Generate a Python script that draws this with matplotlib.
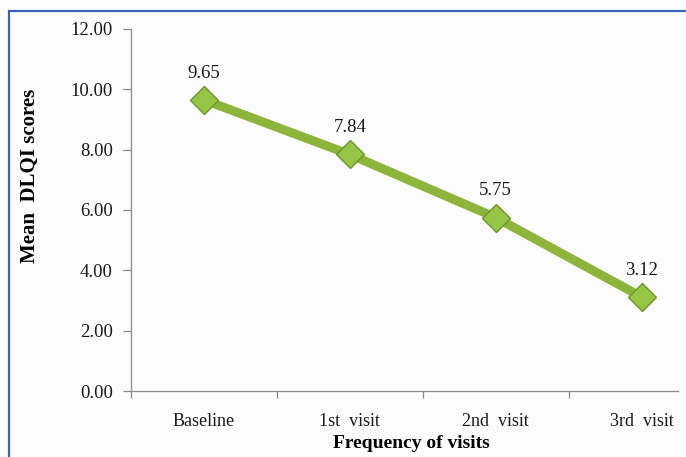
import matplotlib
matplotlib.use("Agg")
import matplotlib.pyplot as plt
from matplotlib.patches import Rectangle

visits = ["Baseline", "1st  visit", "2nd  visit", "3rd  visit"]
mean_dlqi = [9.65, 7.84, 5.75, 3.12]
y_ticks = [0, 2, 4, 6, 8, 10, 12]

W, H = 686, 457
fig = plt.figure(figsize=(W / 100, H / 100), dpi=100)
fig.patch.set_facecolor("#fcfcfc")
plt.rcParams["font.family"] = ["Liberation Serif", "DejaVu Serif"]

# blue chart frame (runs off the right and bottom edges)
fig.patches.append(Rectangle((8.5 / W, -0.1), 1.2, 1 + 0.1 - 10.5 / H,
                             transform=fig.transFigure, fill=False,
                             edgecolor="#3a62b8", linewidth=1.6, zorder=0))

ax = fig.add_axes([131 / W, 1 - 391 / H, (678 - 131) / W, (391 - 29) / H])
ax.set_facecolor("none")

x = list(range(len(visits)))
ax.plot(x, mean_dlqi, color="#8db53c", linewidth=6.5, solid_capstyle="butt",
        zorder=2)
ax.plot(x, mean_dlqi, linestyle="none", marker="D", markersize=14,
        markerfacecolor="#96c545", markeredgecolor="#6b9629",
        markeredgewidth=1.0, zorder=3)

for xi, v in zip(x, mean_dlqi):
    ax.annotate(f"{v:.2f}", (xi, v), xytext=(0, 13), textcoords="offset points",
                ha="center", va="bottom", fontsize=13.5, color="#1a1a1a")

ax.set_xlim(-0.5, 3.25)
ax.set_ylim(0, 12)
ax.set_yticks(y_ticks)
ax.set_yticklabels([f"{t:.2f}" for t in y_ticks], fontsize=13.5,
                   color="#1a1a1a")

ax.set_xticks([-0.5, 0.5, 1.5, 2.5])
ax.set_xticklabels([])
ax.set_xticks(x, minor=True)
ax.set_xticklabels(visits, minor=True, fontsize=13, color="#1a1a1a")
ax.tick_params(axis="x", which="minor", length=0, pad=16)
ax.tick_params(axis="x", which="major", direction="out", length=5,
               color="#888888", width=0.9)
ax.tick_params(axis="y", direction="out", length=6, color="#888888",
               width=0.9, pad=7)

for s in ("top", "right"):
    ax.spines[s].set_visible(False)
for s in ("left", "bottom"):
    ax.spines[s].set_color("#8c8c8c")
    ax.spines[s].set_linewidth(0.9)

ax.set_ylabel("Mean  DLQI scores", fontsize=15, fontweight="bold")
ax.yaxis.set_label_coords(-0.166, 0.594)
ax.set_xlabel("Frequency of visits", fontsize=14, fontweight="bold")
ax.xaxis.set_label_coords(0.512, -0.122)

fig.savefig("out.png", dpi=100, facecolor=fig.get_facecolor())
